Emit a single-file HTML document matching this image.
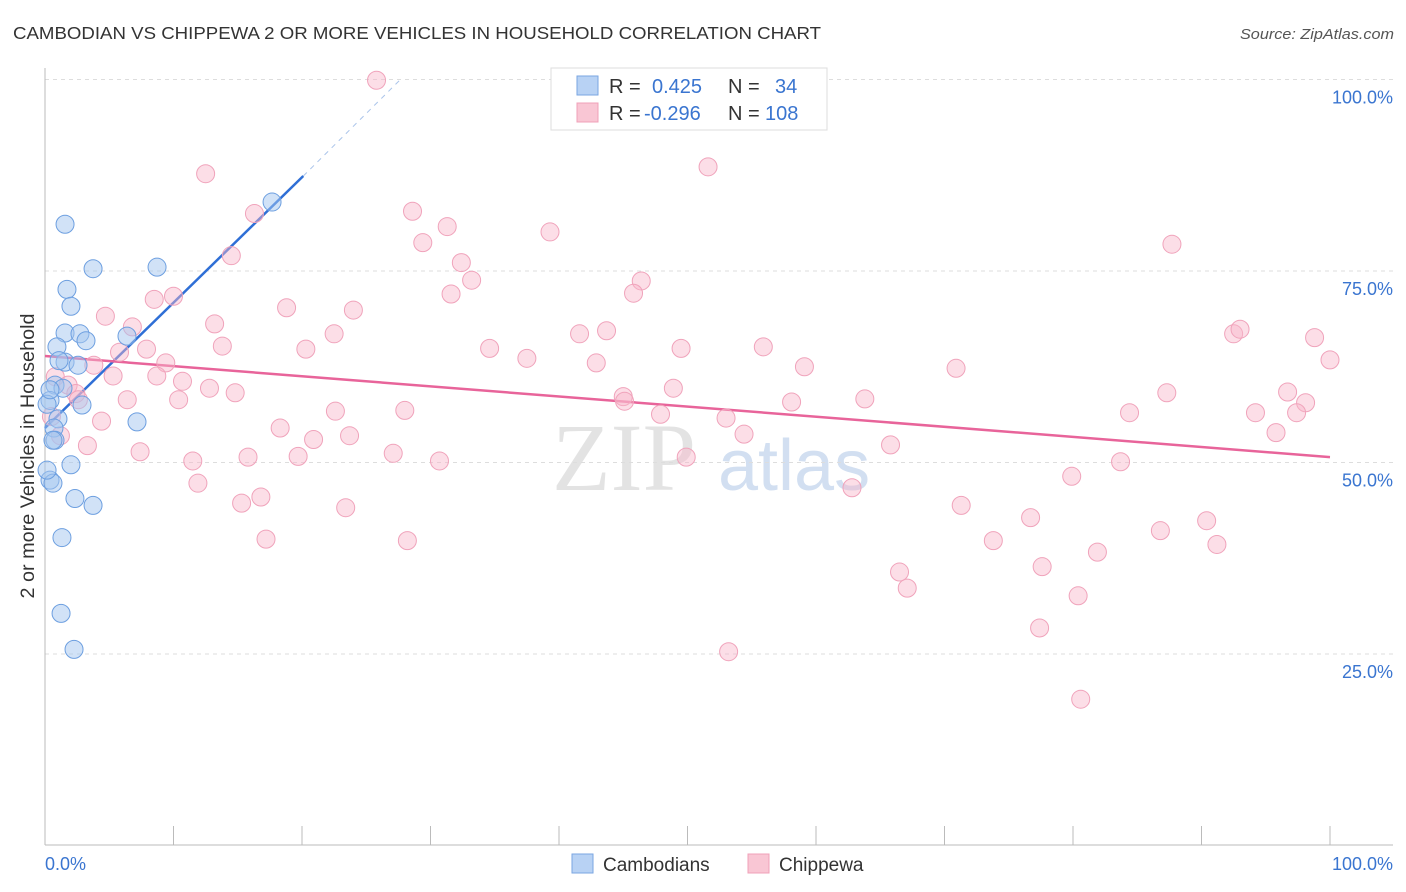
<!DOCTYPE html>
<html><head><meta charset="utf-8"><style>
body{margin:0;background:#fff;font-family:"Liberation Sans",sans-serif}
svg{display:block}
</style></head><body>
<svg width="1406" height="892" viewBox="0 0 1406 892">
<text x="13" y="39" font-size="17.5" fill="#333" textLength="808" lengthAdjust="spacingAndGlyphs">CAMBODIAN VS CHIPPEWA 2 OR MORE VEHICLES IN HOUSEHOLD CORRELATION CHART</text>
<text x="1240" y="39" font-size="15" fill="#555" textLength="154" lengthAdjust="spacingAndGlyphs" font-style="italic">Source: ZipAtlas.com</text>
<g><text x="552" y="490" font-size="96" fill="#ddd" font-family="Liberation Serif" opacity="0.8">ZIP</text><text x="718" y="490" font-size="72" fill="#c8d8ee" opacity="0.8">atlas</text></g>
<g id="grid"></g>
<g id="axes"></g>
<text transform="translate(34,456) rotate(-90)" font-size="19" fill="#333" text-anchor="middle" textLength="285" lengthAdjust="spacingAndGlyphs">2 or more Vehicles in Household</text>
<g id="lines"></g>
<g id="pts"></g>
<g>
<rect x="551" y="68" width="276" height="62" fill="#fff" stroke="#ddd"/>
<rect x="577" y="76" width="21" height="19" fill="#b8d2f4" stroke="#7aa6e2"/>
<rect x="577" y="103" width="21" height="19" fill="#f9c6d4" stroke="#f0a0b8"/>
<text x="609" y="93" font-size="20" fill="#333">R = </text><text x="652" y="93" font-size="20" fill="#3a75d0">0.425</text>
<text x="728" y="93" font-size="20" fill="#333">N = </text><text x="775" y="93" font-size="20" fill="#3a75d0">34</text>
<text x="609" y="120" font-size="20" fill="#333">R = </text><text x="644" y="120" font-size="20" fill="#3a75d0">-0.296</text>
<text x="728" y="120" font-size="20" fill="#333">N = </text><text x="765" y="120" font-size="20" fill="#3a75d0">108</text>
</g>
<g>
<rect x="572" y="854" width="21" height="19" fill="#b8d2f4" stroke="#7aa6e2"/><text x="603" y="871" font-size="19" fill="#333">Cambodians</text>
<rect x="748" y="854" width="21" height="19" fill="#f9c6d4" stroke="#f0a0b8"/><text x="779" y="871" font-size="19" fill="#333">Chippewa</text>
</g>
</svg>
<script>
const yTicks=[25,50,75,100];
const yTickLabels=["25.0%","50.0%","75.0%","100.0%"];
const xTickLabels=["0.0%","100.0%"];
const camX=[1.56,3.74,8.72,1.71,2.02,1.56,2.72,3.19,6.38,0.93,1.56,1.09,2.57,0.78,1.40,0.39,0.16,2.88,7.16,1.01,0.70,0.78,0.62,2.02,0.39,0.62,2.33,3.74,1.32,1.25,2.26,17.67,0.39,0.16];
const camY=[81.1,75.3,75.5,72.6,70.4,66.9,66.8,65.9,66.5,65.1,63.1,63.3,62.7,60.1,59.7,58.1,57.6,57.5,55.3,55.7,54.5,52.9,52.9,49.7,47.7,47.3,45.3,44.4,40.2,30.3,25.6,84.0,59.5,49.0];
const chiX=[25.8,51.6,12.5,16.3,28.6,31.3,39.3,29.4,14.5,32.4,87.7,33.2,46.4,31.6,45.8,8.5,10.0,18.8,24.0,4.7,13.2,6.8,22.5,41.6,43.7,92.5,93.0,98.8,13.8,20.3,34.6,49.5,55.9,7.9,5.8,37.5,42.9,3.8,9.4,100,70.9,59.1,0.8,5.3,8.7,10.7,1.8,12.8,14.8,48.9,96.7,87.3,2.4,2.6,6.4,10.4,45.0,45.1,63.8,58.1,22.6,28.0,98.1,94.2,84.4,97.4,47.9,53.0,4.4,18.3,54.4,23.7,95.8,20.9,65.8,3.3,7.4,49.9,15.8,11.5,19.7,27.1,30.7,83.7,79.9,11.9,62.8,16.8,15.3,71.3,23.4,76.7,90.4,86.8,17.2,28.2,73.8,91.2,81.9,77.6,66.5,67.1,80.4,77.4,53.2,80.6,0.5,1.2];
const chiY=[99.9,88.6,87.7,82.5,82.8,80.8,80.1,78.7,77.0,76.1,78.5,73.8,73.7,72.0,72.1,71.3,71.7,70.2,69.9,69.1,68.1,67.7,66.8,66.8,67.2,66.8,67.4,66.3,65.2,64.8,64.9,64.9,65.1,64.8,64.4,63.6,63.0,62.7,63.0,63.4,62.3,62.5,61.2,61.3,61.3,60.6,60.1,59.7,59.1,59.7,59.2,59.1,59.0,58.2,58.2,58.2,58.6,58.0,58.3,57.9,56.7,56.8,57.8,56.5,56.5,56.5,56.3,55.8,55.4,54.5,53.7,53.5,53.9,53.0,52.3,52.2,51.4,50.7,50.7,50.2,50.8,51.2,50.2,50.1,48.2,47.3,46.7,45.5,44.7,44.4,44.1,42.8,42.4,41.1,40.0,39.8,39.8,39.3,38.3,36.4,35.7,33.6,32.6,28.4,25.3,19.1,56.0,53.5];
const camLine=[[0,54.5],[20.1,87.4]];
const camDash=[[20.1,87.4],[27.6,99.9]];
const chiLine=[[0,63.9],[100,50.7]];
const X=v=>45+12.85*v, Y=v=>845.5-7.66*v;
const NS="http://www.w3.org/2000/svg";
function mk(p,t,a){const e=document.createElementNS(NS,t);for(const k in a)e.setAttribute(k,a[k]);p.appendChild(e);return e;}
const grid=document.getElementById('grid');
yTicks.forEach((t,i)=>{
 const l=mk(grid,'line',{x1:45,x2:1393,y1:Y(t),y2:Y(t),stroke:'#ddd','stroke-dasharray':'4,4'});
 
 
 const tx=mk(grid,'text',{x:1393,y:Y(t)+24,'font-size':18,fill:'#3a75d0','text-anchor':'end'});tx.textContent=yTickLabels[i];
 
 
});
const ax=document.getElementById('axes');
mk(ax,'line',{x1:45,x2:45,y1:68,y2:845,stroke:'#bbb'});
const xl=mk(ax,'line',{x1:45,x2:1393,y1:845,y2:845,stroke:'#bbb'});


for(let i=0;i<=10;i++){mk(ax,'line',{x1:X(i*10),x2:X(i*10),y1:826,y2:845,stroke:'#bbb'});}
const t0=mk(ax,'text',{x:45,y:870,'font-size':18,fill:'#3a75d0'});t0.textContent=xTickLabels[0];


const t1=mk(ax,'text',{x:1393,y:870,'font-size':18,fill:'#3a75d0','text-anchor':'end'});t1.textContent=xTickLabels[1];


const pts=document.getElementById('pts');
chiX.forEach((v,i)=>{const c=mk(pts,'circle',{cx:X(v),cy:Y(chiY[i]),r:9,fill:'rgba(248,182,202,0.45)',stroke:'#f0a3bb','stroke-width':1});
 
 });
camX.forEach((v,i)=>{const c=mk(pts,'circle',{cx:X(v),cy:Y(camY[i]),r:9,fill:'rgba(164,198,240,0.5)',stroke:'#6d9fe0','stroke-width':1});
 
 });
const ln=document.getElementById('lines');
const a=mk(ln,'line',{x1:X(camLine[0][0]),y1:Y(camLine[0][1]),x2:X(camLine[1][0]),y2:Y(camLine[1][1]),stroke:'#2f6fd6','stroke-width':2.5});


const b=mk(ln,'line',{x1:X(camDash[0][0]),y1:Y(camDash[0][1]),x2:X(camDash[1][0]),y2:Y(camDash[1][1]),stroke:'#aac4ea','stroke-width':1,'stroke-dasharray':'5,5'});


const c=mk(ln,'line',{x1:X(chiLine[0][0]),y1:Y(chiLine[0][1]),x2:X(chiLine[1][0]),y2:Y(chiLine[1][1]),stroke:'#e8649a','stroke-width':2.5});


</script>
</body></html>
